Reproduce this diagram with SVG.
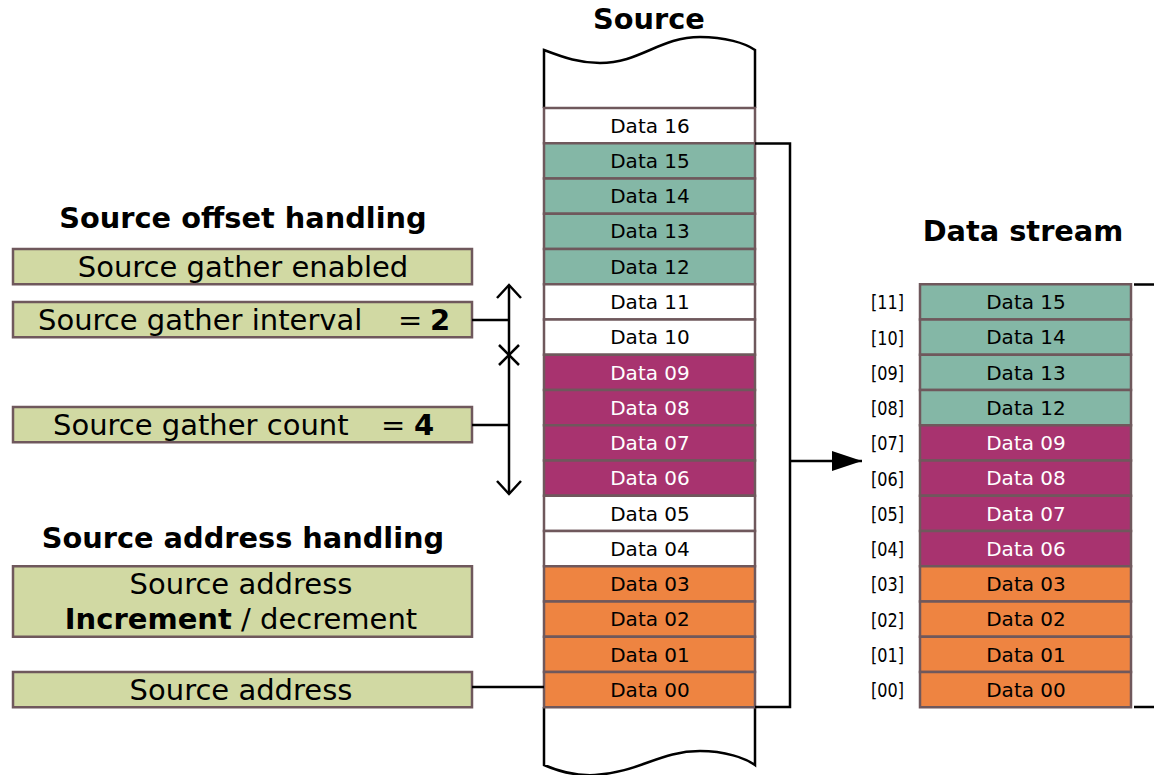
<svg xmlns="http://www.w3.org/2000/svg" width="1154" height="775" viewBox="0 0 1154 775">
  <style>
    text { font-family: "DejaVu Sans", Verdana, sans-serif; fill: #000; }
    .title { font-size: 28.8px; font-weight: bold; text-anchor: middle; }
    .cell { stroke: #6f585c; stroke-width: 2.5; }
    .white { fill: #ffffff; }
    .teal { fill: #84b7a6; }
    .mag { fill: #a8336f; }
    .orange { fill: #ee8441; }
    .opt { fill: #d1d9a3; stroke: #6f585c; stroke-width: 2.5; }
    .dt { font-size: 20px; text-anchor: middle; }
    .dtw { font-size: 20px; text-anchor: middle; fill: #ffffff; }
    .idx { font-size: 20px; }
    .ot { font-size: 29px; text-anchor: middle; }
    .b { font-weight: bold; }
    .wire { fill: none; stroke: #000; stroke-width: 2.5; }
  </style>
  <defs>
    <marker id="head" viewBox="0 0 30 20" refX="30" refY="10" markerWidth="30" markerHeight="20" markerUnits="userSpaceOnUse" orient="auto">
      <path d="M0,0 L30,10 L0,20 Z" fill="#000"/>
    </marker>
  </defs>

  <!-- Titles -->
  <text class="title" x="649" y="29">Source</text>
  <text class="title" x="243" y="228">Source offset handling</text>
  <text class="title" x="243" y="548">Source address handling</text>
  <text class="title" x="1023" y="241">Data stream</text>

  <!-- Source memory column: torn ends -->
  <g id="source-ends">
    <path class="wire" d="M544,108 V50 C565,58 580,63 600,63 C640,63 660,37 700,37 C725,37 745,43 755,50 V108"/>
    <path class="wire" d="M544,707 V765 C560,772 575,776 595,775 C640,772 660,751 700,751 C725,751 745,758 755,765 V707"/>
  </g>

  <!-- Source memory cells -->
  <g id="src-16"><rect class="cell white" x="544" y="108" width="211" height="35.25"/><text class="dt" x="650" y="133">Data 16</text></g>
  <g id="src-15"><rect class="cell teal" x="544" y="143.25" width="211" height="35.25"/><text class="dt" x="650" y="168">Data 15</text></g>
  <g id="src-14"><rect class="cell teal" x="544" y="178.5" width="211" height="35.25"/><text class="dt" x="650" y="203">Data 14</text></g>
  <g id="src-13"><rect class="cell teal" x="544" y="213.75" width="211" height="35.25"/><text class="dt" x="650" y="238">Data 13</text></g>
  <g id="src-12"><rect class="cell teal" x="544" y="249" width="211" height="35.25"/><text class="dt" x="650" y="274">Data 12</text></g>
  <g id="src-11"><rect class="cell white" x="544" y="284.25" width="211" height="35.25"/><text class="dt" x="650" y="309">Data 11</text></g>
  <g id="src-10"><rect class="cell white" x="544" y="319.5" width="211" height="35.25"/><text class="dt" x="650" y="344">Data 10</text></g>
  <g id="src-09"><rect class="cell mag" x="544" y="354.75" width="211" height="35.25"/><text class="dtw" x="650" y="380">Data 09</text></g>
  <g id="src-08"><rect class="cell mag" x="544" y="390" width="211" height="35.25"/><text class="dtw" x="650" y="415">Data 08</text></g>
  <g id="src-07"><rect class="cell mag" x="544" y="425.25" width="211" height="35.25"/><text class="dtw" x="650" y="450">Data 07</text></g>
  <g id="src-06"><rect class="cell mag" x="544" y="460.5" width="211" height="35.25"/><text class="dtw" x="650" y="485">Data 06</text></g>
  <g id="src-05"><rect class="cell white" x="544" y="495.75" width="211" height="35.25"/><text class="dt" x="650" y="521">Data 05</text></g>
  <g id="src-04"><rect class="cell white" x="544" y="531" width="211" height="35.25"/><text class="dt" x="650" y="556">Data 04</text></g>
  <g id="src-03"><rect class="cell orange" x="544" y="566.25" width="211" height="35.25"/><text class="dt" x="650" y="591">Data 03</text></g>
  <g id="src-02"><rect class="cell orange" x="544" y="601.5" width="211" height="35.25"/><text class="dt" x="650" y="626">Data 02</text></g>
  <g id="src-01"><rect class="cell orange" x="544" y="636.75" width="211" height="35.25"/><text class="dt" x="650" y="662">Data 01</text></g>
  <g id="src-00"><rect class="cell orange" x="544" y="672" width="211" height="35.25"/><text class="dt" x="650" y="697">Data 00</text></g>

  <!-- Data stream cells with indices -->
  <g id="ds-11"><text class="idx" x="871" y="309" textLength="33" lengthAdjust="spacingAndGlyphs">[11]</text><rect class="cell teal" x="920" y="284.25" width="211" height="35.25"/><text class="dt" x="1026" y="309">Data 15</text></g>
  <g id="ds-10"><text class="idx" x="871" y="345" textLength="33" lengthAdjust="spacingAndGlyphs">[10]</text><rect class="cell teal" x="920" y="319.5" width="211" height="35.25"/><text class="dt" x="1026" y="344">Data 14</text></g>
  <g id="ds-09"><text class="idx" x="871" y="380" textLength="33" lengthAdjust="spacingAndGlyphs">[09]</text><rect class="cell teal" x="920" y="354.75" width="211" height="35.25"/><text class="dt" x="1026" y="380">Data 13</text></g>
  <g id="ds-08"><text class="idx" x="871" y="415" textLength="33" lengthAdjust="spacingAndGlyphs">[08]</text><rect class="cell teal" x="920" y="390" width="211" height="35.25"/><text class="dt" x="1026" y="415">Data 12</text></g>
  <g id="ds-07"><text class="idx" x="871" y="450" textLength="33" lengthAdjust="spacingAndGlyphs">[07]</text><rect class="cell mag" x="920" y="425.25" width="211" height="35.25"/><text class="dtw" x="1026" y="450">Data 09</text></g>
  <g id="ds-06"><text class="idx" x="871" y="486" textLength="33" lengthAdjust="spacingAndGlyphs">[06]</text><rect class="cell mag" x="920" y="460.5" width="211" height="35.25"/><text class="dtw" x="1026" y="485">Data 08</text></g>
  <g id="ds-05"><text class="idx" x="871" y="521" textLength="33" lengthAdjust="spacingAndGlyphs">[05]</text><rect class="cell mag" x="920" y="495.75" width="211" height="35.25"/><text class="dtw" x="1026" y="521">Data 07</text></g>
  <g id="ds-04"><text class="idx" x="871" y="556" textLength="33" lengthAdjust="spacingAndGlyphs">[04]</text><rect class="cell mag" x="920" y="531" width="211" height="35.25"/><text class="dtw" x="1026" y="556">Data 06</text></g>
  <g id="ds-03"><text class="idx" x="871" y="591" textLength="33" lengthAdjust="spacingAndGlyphs">[03]</text><rect class="cell orange" x="920" y="566.25" width="211" height="35.25"/><text class="dt" x="1026" y="591">Data 03</text></g>
  <g id="ds-02"><text class="idx" x="871" y="627" textLength="33" lengthAdjust="spacingAndGlyphs">[02]</text><rect class="cell orange" x="920" y="601.5" width="211" height="35.25"/><text class="dt" x="1026" y="626">Data 02</text></g>
  <g id="ds-01"><text class="idx" x="871" y="662" textLength="33" lengthAdjust="spacingAndGlyphs">[01]</text><rect class="cell orange" x="920" y="636.75" width="211" height="35.25"/><text class="dt" x="1026" y="662">Data 01</text></g>
  <g id="ds-00"><text class="idx" x="871" y="697" textLength="33" lengthAdjust="spacingAndGlyphs">[00]</text><rect class="cell orange" x="920" y="672" width="211" height="35.25"/><text class="dt" x="1026" y="697">Data 00</text></g>

  <!-- Option boxes -->
  <g id="opt-enabled">
    <rect class="opt" x="13" y="249" width="459" height="35.25"/>
    <text class="ot" x="243" y="277">Source gather enabled</text>
  </g>
  <g id="opt-interval">
    <rect class="opt" x="13" y="302" width="459" height="35.25"/>
    <text class="ot" x="38" y="330" style="text-anchor:start">Source gather interval<tspan x="398">=</tspan><tspan class="b" x="430">2</tspan></text>
  </g>
  <g id="opt-count">
    <rect class="opt" x="13" y="407" width="459" height="35.25"/>
    <text class="ot" x="53" y="435" style="text-anchor:start">Source gather count<tspan x="381">=</tspan><tspan class="b" x="414">4</tspan></text>
  </g>
  <g id="opt-incdec">
    <rect class="opt" x="13" y="566.25" width="459" height="70.5"/>
    <text class="ot" x="241" y="594">Source address</text>
    <text class="ot" x="241" y="629"><tspan class="b">Increment</tspan> / decrement</text>
  </g>
  <g id="opt-address">
    <rect class="opt" x="13" y="672" width="459" height="35.25"/>
    <text class="ot" x="241" y="700">Source address</text>
  </g>

  <!-- Connectors -->
  <g id="connectors">
    <!-- gather span with open arrowheads and interval/count split -->
    <path class="wire" d="M509,285 V494"/>
    <path class="wire" d="M497,298 L509,285 L521,298"/>
    <path class="wire" d="M497,481 L509,494 L521,481"/>
    <path class="wire" d="M499,345 L519,365 M519,345 L499,365"/>
    <path class="wire" d="M472,320 H509"/>
    <path class="wire" d="M472,425 H509"/>
    <path class="wire" d="M472,687 H544"/>
    <!-- source gather bracket to data stream -->
    <path class="wire" d="M755,143.5 H790 V707 H755"/>
    <path class="wire" d="M790,461 H862" marker-end="url(#head)"/>
    <!-- data stream bracket -->
    <path class="wire" d="M1134,284.5 H1157 V707 H1134"/>
  </g>
</svg>
